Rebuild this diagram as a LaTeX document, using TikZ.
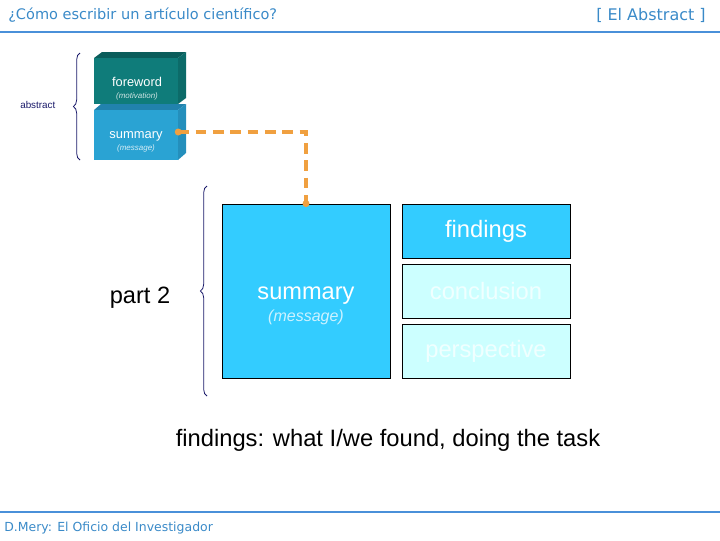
\documentclass[tikz,border=0pt]{standalone}
\usepackage{fontspec}
\setmainfont{Liberation Sans}
\newfontfamily\headfont{DejaVu Sans}
\usetikzlibrary{positioning, calc, decorations.pathreplacing}
\definecolor{headblue}{HTML}{4A90D9}
\definecolor{titleblue}{HTML}{3A8AC8}
\definecolor{tealbox}{HTML}{0F7C7A}
\definecolor{tealtop}{HTML}{0A5D5B}
\definecolor{tealside}{HTML}{0C6B69}
\definecolor{sumbox}{HTML}{2AA3D3}
\definecolor{sumtop}{HTML}{2182AD}
\definecolor{sumside}{HTML}{248FBC}
\definecolor{cyanbox}{HTML}{33CCFF}
\definecolor{palebox}{HTML}{CCFFFF}
\definecolor{dashorange}{HTML}{F0A040}
\definecolor{bracenavy}{HTML}{1A1A6A}

\tikzset{
  front/.style={minimum width=63pt, minimum height=37pt, inner sep=0pt},
  partbox/.style={draw=black, line width=0.6pt, minimum width=126pt,
                  minimum height=40.5pt, inner sep=0pt,
                  font=\fontsize{17.8}{20}\selectfont, text=white},
  bigtext/.style={font=\fontsize{17.7}{20}\selectfont},
  brace/.style={decorate, decoration={brace, amplitude=5pt},
                bracenavy, line width=0.6pt},
  link/.style={dashorange, line width=3pt, dash pattern=on 8pt off 5pt}
}

\begin{document}
\begin{tikzpicture}[x=0.75pt, y=-0.75pt]
\useasboundingbox (0,0) rectangle (720,540);

% ;- header and footer ;-
\node[anchor=west, inner sep=0pt, text=titleblue, font=\headfont\fontsize{10.9}{13}\selectfont]
    (title) at (8,15) {¿Cómo escribir un artículo científico?};
\node[anchor=east, inner sep=0pt, text=titleblue, font=\headfont\fontsize{12}{14}\selectfont]
    (topic) at (706,15) {[ El Abstract ]};
\draw[headblue, line width=2.2pt] (0,32) -- (720,32);
\draw[headblue, line width=2.2pt] (0,512) -- (720,512);
\node[anchor=west, inner sep=0pt, text=titleblue, font=\headfont\fontsize{9.35}{11}\selectfont]
    (foot) at (4,528) {D.Mery: El Oficio del Investigador};

% ;- abstract: the two stacked blocks ;-
\node[anchor=west, inner sep=0pt, text=bracenavy, font=\fontsize{7.4}{9}\selectfont]
    (abs) at (20,105) {abstract};
\draw[brace] (80,160) -- (80,53);
% foreword block
\fill[tealtop] (94,58) -- (102,52) -- (186,52) -- (178,58) -- cycle;
\fill[tealside] (178,58) -- (186,52) -- (186,98) -- (178,104) -- cycle;
\node[front, fill=tealbox, minimum height=34.5pt] (fore) at (136,81) {};
\node[text=white, font=\fontsize{9.6}{11}\selectfont] (foreT) at (137,82) {foreword};
\node[text=white!80!tealbox, font=\itshape\fontsize{6}{7}\selectfont] (foreS) at (137,96) {(motivation)};
% summary block
\fill[sumtop] (94,110) -- (101,104) -- (186,104) -- (178,110) -- cycle;
\fill[sumside] (178,110) -- (186,104) -- (186,153) -- (178,160) -- cycle;
\node[front, fill=sumbox] (sum) at (136,135) {};
\node[text=white, font=\fontsize{9.7}{11}\selectfont] (sumT) at (136,136) {summary};
\node[text=white!80!sumbox, font=\itshape\fontsize{6}{7}\selectfont] (sumS) at (136,148) {(message)};

% ;- part 2: summary and its pieces ;-
\node[draw=black, line width=0.6pt, fill=cyanbox, minimum width=126pt,
      minimum height=130.5pt, inner sep=0pt] (big) at (306,291) {};
\node[bigtext, text=white] (bigT) at (306,296) {summary};
\node[text=white!75!cyanbox, font=\itshape\fontsize{12}{14}\selectfont] (bigS) at (306,317) {(message)};
\node[partbox, fill=cyanbox] (find) at (486,231) {findings};
\node[partbox, fill=palebox, text=white!70!palebox] (concl) at (486,291) {conclusion};
\node[partbox, fill=palebox, text=white!70!palebox] (persp) at (486,351) {perspective};
\draw[brace] (207,396) -- (207,186);
\node[bigtext] (part) at (140,298) {part 2};

% orange link between the two summaries
\coordinate (start) at ($(sum.east)+(0,-3)$);
\draw[link] (start) -| (big.north);
\fill[dashorange] (start) circle (3.5);
\fill[dashorange] (big.north) circle (3.5);

% explanation line
\node[font=\fontsize{17.8}{20}\selectfont] (note) at (388,440) {findings: what I/we found, doing the task};

\end{tikzpicture}
\end{document}
